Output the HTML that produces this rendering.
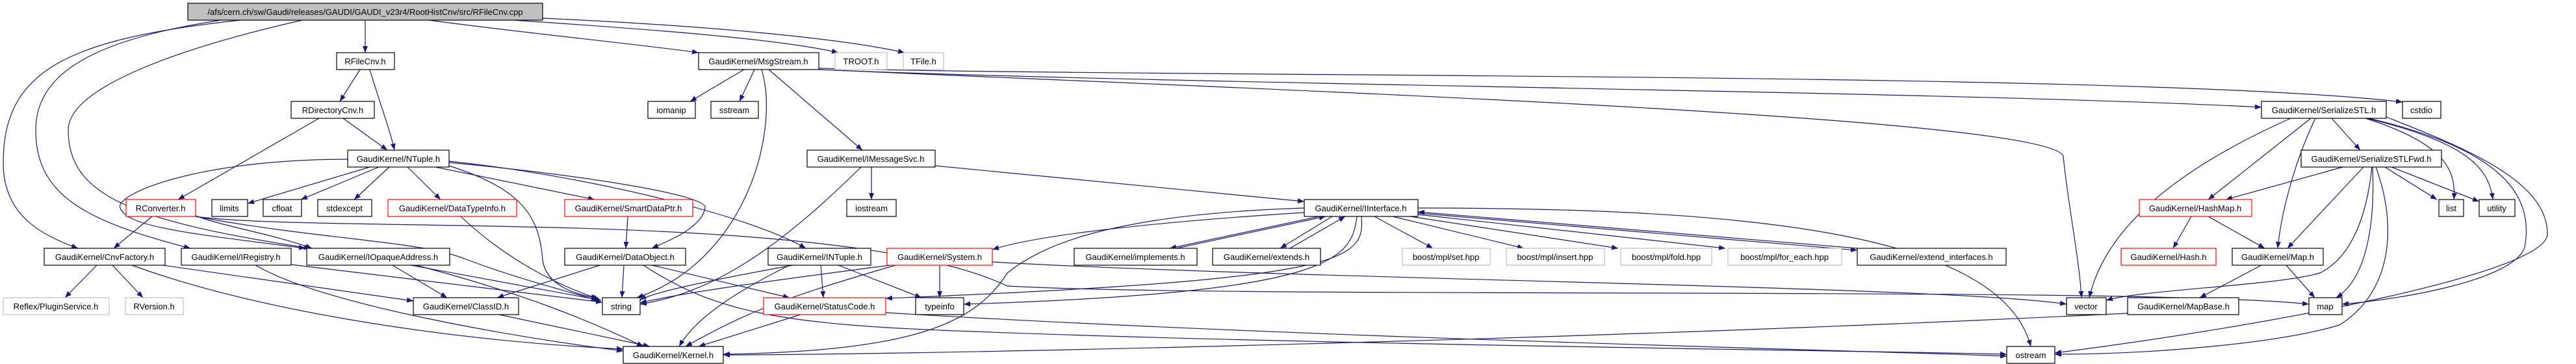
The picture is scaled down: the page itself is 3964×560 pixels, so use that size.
<!DOCTYPE html>
<html><head><meta charset="utf-8"><style>
html,body{margin:0;padding:0;background:#fff;}
svg{display:block;}
text{font-family:"Liberation Sans","DejaVu Sans",sans-serif;font-size:13px;fill:#000;text-anchor:middle;}
.e{fill:none;stroke:#191970;stroke-width:1.2;marker-end:url(#a);}
.n{fill:#fff;stroke:#000;stroke-width:1.2;}
.r{fill:#fff;stroke:#ff0000;stroke-width:1.2;}
.g{fill:#fff;stroke:#bfbfbf;stroke-width:1.2;}
</style></head><body>
<svg width="3964" height="560" viewBox="0 0 3964 560" xmlns="http://www.w3.org/2000/svg">
<defs><marker id="a" markerWidth="10" markerHeight="8" refX="10" refY="4" orient="auto" markerUnits="userSpaceOnUse"><path d="M0,0 L10,4 L0,8 z" fill="#191970"/></marker></defs>
<g>
<path class="e" d="M562,31 L562,81"/>
<path class="e" d="M370,31 C100,60 5,110 5,250 C5,330 60,360 120,382"/>
<path class="e" d="M340,31 C150,60 55,110 55,200 C55,300 130,340 293,382"/>
<path class="e" d="M465,31 C250,80 105,140 105,200 C105,300 200,340 478,382"/>
<path class="e" d="M660,31 C800,50 1000,70 1075,81"/>
<path class="e" d="M790,31 C1000,45 1200,60 1290,81"/>
<path class="e" d="M835,28 C1100,40 1300,60 1392,81"/>
<path class="e" d="M1145,107 L1062,156"/>
<path class="e" d="M1161,107 L1138,156"/>
<path class="e" d="M1183,107 L1327,231"/>
<path class="e" d="M1172,107 C1200,200 1150,400 980,458"/>
<path class="e" d="M1260,105 C1800,120 3300,110 3697,157"/>
<path class="e" d="M1260,107 C1800,130 3000,140 3480,165"/>
<path class="e" d="M1260,107 C2000,140 3150,180 3175,240 C3180,300 3200,400 3203,458"/>
<path class="e" d="M554,107 L523,156"/>
<path class="e" d="M569,107 C585,160 600,200 607,231"/>
<path class="e" d="M491,182 L274,307"/>
<path class="e" d="M528,182 L596,231"/>
<path class="e" d="M569,257 L381,313"/>
<path class="e" d="M583,257 L463,307"/>
<path class="e" d="M599,257 L545,307"/>
<path class="e" d="M627,257 L678,307"/>
<path class="e" d="M670,257 L915,307"/>
<path class="e" d="M691,255 C800,290 830,330 835,400 C840,440 890,455 920,458"/>
<path class="e" d="M691,250 C900,270 1090,300 1085,320 C1080,350 1030,370 1003,382"/>
<path class="e" d="M691,248 C900,270 1150,330 1240,382"/>
<path class="e" d="M535,245 C300,245 175,300 185,320 C195,350 300,360 470,382"/>
<path class="e" d="M234,333 L175,382"/>
<path class="e" d="M301,332 C350,350 420,360 480,382"/>
<path class="e" d="M301,333 C500,370 650,370 720,400 C800,430 880,450 920,462"/>
<path class="e" d="M301,333 C500,360 1300,320 1550,440 C1900,460 3300,440 3553,468"/>
<path class="e" d="M709,333 C780,400 860,440 922,460"/>
<path class="e" d="M966,333 L963,382"/>
<path class="e" d="M149,408 L100,458"/>
<path class="e" d="M173,408 L220,458"/>
<path class="e" d="M250,408 L636,463"/>
<path class="e" d="M203,408 C400,480 700,525 959,537"/>
<path class="e" d="M448,407 L927,465"/>
<path class="e" d="M393,408 C500,470 800,520 959,540"/>
<path class="e" d="M604,408 L688,458"/>
<path class="e" d="M632,408 L925,462"/>
<path class="e" d="M640,408 C800,450 900,490 990,533"/>
<path class="e" d="M923,408 L765,458"/>
<path class="e" d="M960,408 L957,458"/>
<path class="e" d="M1003,408 L1215,458"/>
<path class="e" d="M990,408 C1100,480 1200,500 1500,510 C2000,530 2900,540 3088,545"/>
<path class="e" d="M768,484 L1000,533"/>
<path class="e" d="M1220,408 C1100,430 1000,450 985,462"/>
<path class="e" d="M1215,408 C1130,450 1070,490 1045,533"/>
<path class="e" d="M1263,408 L1267,458"/>
<path class="e" d="M1290,408 L1418,458"/>
<path class="e" d="M1446,408 L1446,458"/>
<path class="e" d="M1378,408 C1200,460 1150,480 1055,533"/>
<path class="e" d="M1370,408 C1200,430 1050,450 985,466"/>
<path class="e" d="M1527,403 C2000,430 3000,440 3180,468"/>
<path class="e" d="M2115,333 L2205,382"/>
<path class="e" d="M2143,333 L2345,382"/>
<path class="e" d="M2170,333 L2490,382"/>
<path class="e" d="M2182,330 L2655,382"/>
<path class="e" d="M2182,328 L2858,385"/>
<path class="e" d="M2007,327 C1800,340 1600,360 1527,384"/>
<path class="e" d="M2030,333 L1800,382"/>
<path class="e" d="M2050,333 L1970,382"/>
<path class="e" d="M2088,333 C2080,400 2050,450 1483,468"/>
<path class="e" d="M2095,333 C2100,400 2080,430 1363,459"/>
<path class="e" d="M2007,320 C1700,330 1600,380 1550,420 C1500,500 1400,540 1113,545"/>
<path class="e" d="M2182,320 C2700,320 3080,360 3125,533"/>
<path class="e" d="M1810,382 L2040,333"/>
<path class="e" d="M1985,382 L2070,333"/>
<path class="e" d="M2858,382 L2182,326"/>
<path class="e" d="M1341,257 L1341,307"/>
<path class="e" d="M1439,255 L2007,310"/>
<path class="e" d="M1325,257 C1200,380 1100,450 985,468"/>
<path class="e" d="M1232,484 L1075,533"/>
<path class="e" d="M1363,481 C2000,520 2900,540 3088,548"/>
<path class="e" d="M3274,482 C2500,520 1500,545 1113,546"/>
<path class="e" d="M3588,182 L3632,231"/>
<path class="e" d="M3556,182 L3398,307"/>
<path class="e" d="M3563,182 C3530,250 3510,330 3505,382"/>
<path class="e" d="M3525,182 C3350,260 3240,350 3215,458"/>
<path class="e" d="M3640,182 C3760,220 3780,260 3776,307"/>
<path class="e" d="M3642,182 C3800,220 3830,260 3836,307"/>
<path class="e" d="M3645,182 C3850,230 3900,300 3885,380 C3870,430 3700,460 3604,468"/>
<path class="e" d="M3672,180 C3800,230 3920,280 3920,360 C3920,420 3500,500 3162,543"/>
<path class="e" d="M3605,257 L3425,307"/>
<path class="e" d="M3637,257 L3520,382"/>
<path class="e" d="M3670,257 L3750,307"/>
<path class="e" d="M3680,257 L3815,310"/>
<path class="e" d="M3650,257 C3640,350 3610,400 3570,420 C3500,440 3300,445 3241,462"/>
<path class="e" d="M3651,257 C3655,350 3640,430 3595,458"/>
<path class="e" d="M3656,257 C3690,350 3680,450 3600,500 C3500,530 3300,545 3162,545"/>
<path class="e" d="M3372,333 L3344,382"/>
<path class="e" d="M3398,333 L3485,382"/>
<path class="e" d="M3480,408 L3385,458"/>
<path class="e" d="M3518,408 L3562,458"/>
</g>
<g>
<rect x="289" y="5" width="546" height="26" fill="#bfbfbf" stroke="#000" stroke-width="1.2"/><text x="562" y="23">/afs/cern.ch/sw/Gaudi/releases/GAUDI/GAUDI_v23r4/RootHistCnv/src/RFileCnv.cpp</text>
<rect class="n" x="518" y="81" width="89" height="26"/><text x="562" y="99">RFileCnv.h</text>
<rect class="n" x="1075" y="81" width="185" height="26"/><text x="1167" y="99">GaudiKernel/MsgStream.h</text>
<rect class="g" x="1285" y="81" width="80" height="26"/><text x="1325" y="99">TROOT.h</text>
<rect class="g" x="1390" y="81" width="62" height="26"/><text x="1421" y="99">TFile.h</text>
<rect class="n" x="448" y="156" width="128" height="26"/><text x="512" y="174">RDirectoryCnv.h</text>
<rect class="n" x="997" y="156" width="73" height="26"/><text x="1033" y="174">iomanip</text>
<rect class="n" x="1094" y="156" width="73" height="26"/><text x="1130" y="174">sstream</text>
<rect class="n" x="3480" y="156" width="192" height="26"/><text x="3576" y="174">GaudiKernel/SerializeSTL.h</text>
<rect class="n" x="3697" y="156" width="59" height="26"/><text x="3726" y="174">cstdio</text>
<rect class="n" x="535" y="231" width="156" height="26"/><text x="613" y="249">GaudiKernel/NTuple.h</text>
<rect class="n" x="1242" y="231" width="197" height="26"/><text x="1340" y="249">GaudiKernel/IMessageSvc.h</text>
<rect class="n" x="3541" y="231" width="216" height="26"/><text x="3649" y="249">GaudiKernel/SerializeSTLFwd.h</text>
<rect class="r" x="194" y="307" width="107" height="26"/><text x="247" y="325">RConverter.h</text>
<rect class="n" x="326" y="307" width="55" height="26"/><text x="353" y="325">limits</text>
<rect class="n" x="405" y="307" width="59" height="26"/><text x="434" y="325">cfloat</text>
<rect class="n" x="489" y="307" width="83" height="26"/><text x="530" y="325">stdexcept</text>
<rect class="r" x="597" y="307" width="198" height="26"/><text x="696" y="325">GaudiKernel/DataTypeInfo.h</text>
<rect class="r" x="869" y="307" width="197" height="26"/><text x="967" y="325">GaudiKernel/SmartDataPtr.h</text>
<rect class="n" x="1303" y="307" width="76" height="26"/><text x="1341" y="325">iostream</text>
<rect class="n" x="2007" y="307" width="175" height="26"/><text x="2094" y="325">GaudiKernel/IInterface.h</text>
<rect class="r" x="3292" y="307" width="173" height="26"/><text x="3378" y="325">GaudiKernel/HashMap.h</text>
<rect class="n" x="3753" y="307" width="38" height="26"/><text x="3772" y="325">list</text>
<rect class="n" x="3815" y="307" width="55" height="26"/><text x="3842" y="325">utility</text>
<rect class="n" x="68" y="382" width="186" height="26"/><text x="161" y="400">GaudiKernel/CnvFactory.h</text>
<rect class="n" x="279" y="382" width="169" height="26"/><text x="363" y="400">GaudiKernel/IRegistry.h</text>
<rect class="n" x="472" y="382" width="220" height="26"/><text x="582" y="400">GaudiKernel/IOpaqueAddress.h</text>
<rect class="n" x="869" y="382" width="186" height="26"/><text x="962" y="400">GaudiKernel/DataObject.h</text>
<rect class="n" x="1182" y="382" width="158" height="26"/><text x="1261" y="400">GaudiKernel/INTuple.h</text>
<rect class="r" x="1365" y="382" width="162" height="26"/><text x="1446" y="400">GaudiKernel/System.h</text>
<rect class="n" x="1653" y="382" width="189" height="26"/><text x="1747" y="400">GaudiKernel/implements.h</text>
<rect class="n" x="1866" y="382" width="166" height="26"/><text x="1949" y="400">GaudiKernel/extends.h</text>
<rect class="g" x="2158" y="382" width="135" height="26"/><text x="2225" y="400">boost/mpl/set.hpp</text>
<rect class="g" x="2318" y="382" width="151" height="26"/><text x="2393" y="400">boost/mpl/insert.hpp</text>
<rect class="g" x="2494" y="382" width="140" height="26"/><text x="2564" y="400">boost/mpl/fold.hpp</text>
<rect class="g" x="2659" y="382" width="175" height="26"/><text x="2746" y="400">boost/mpl/for_each.hpp</text>
<rect class="n" x="2858" y="382" width="229" height="26"/><text x="2972" y="400">GaudiKernel/extend_interfaces.h</text>
<rect class="r" x="3264" y="382" width="146" height="26"/><text x="3337" y="400">GaudiKernel/Hash.h</text>
<rect class="n" x="3435" y="382" width="140" height="26"/><text x="3505" y="400">GaudiKernel/Map.h</text>
<rect class="g" x="5" y="458" width="163" height="26"/><text x="86" y="476">Reflex/PluginService.h</text>
<rect class="g" x="193" y="458" width="89" height="26"/><text x="237" y="476">RVersion.h</text>
<rect class="n" x="636" y="458" width="162" height="26"/><text x="717" y="476">GaudiKernel/ClassID.h</text>
<rect class="n" x="927" y="458" width="58" height="26"/><text x="956" y="476">string</text>
<rect class="r" x="1175" y="458" width="188" height="26"/><text x="1269" y="476">GaudiKernel/StatusCode.h</text>
<rect class="n" x="1409" y="458" width="74" height="26"/><text x="1446" y="476">typeinfo</text>
<rect class="n" x="3180" y="458" width="61" height="26"/><text x="3210" y="476">vector</text>
<rect class="n" x="3274" y="458" width="171" height="26"/><text x="3360" y="476">GaudiKernel/MapBase.h</text>
<rect class="n" x="3553" y="458" width="51" height="26"/><text x="3578" y="476">map</text>
<rect class="n" x="959" y="533" width="154" height="26"/><text x="1036" y="551">GaudiKernel/Kernel.h</text>
<rect class="n" x="3088" y="533" width="74" height="26"/><text x="3125" y="551">ostream</text>
</g>
</svg>
</body></html>
